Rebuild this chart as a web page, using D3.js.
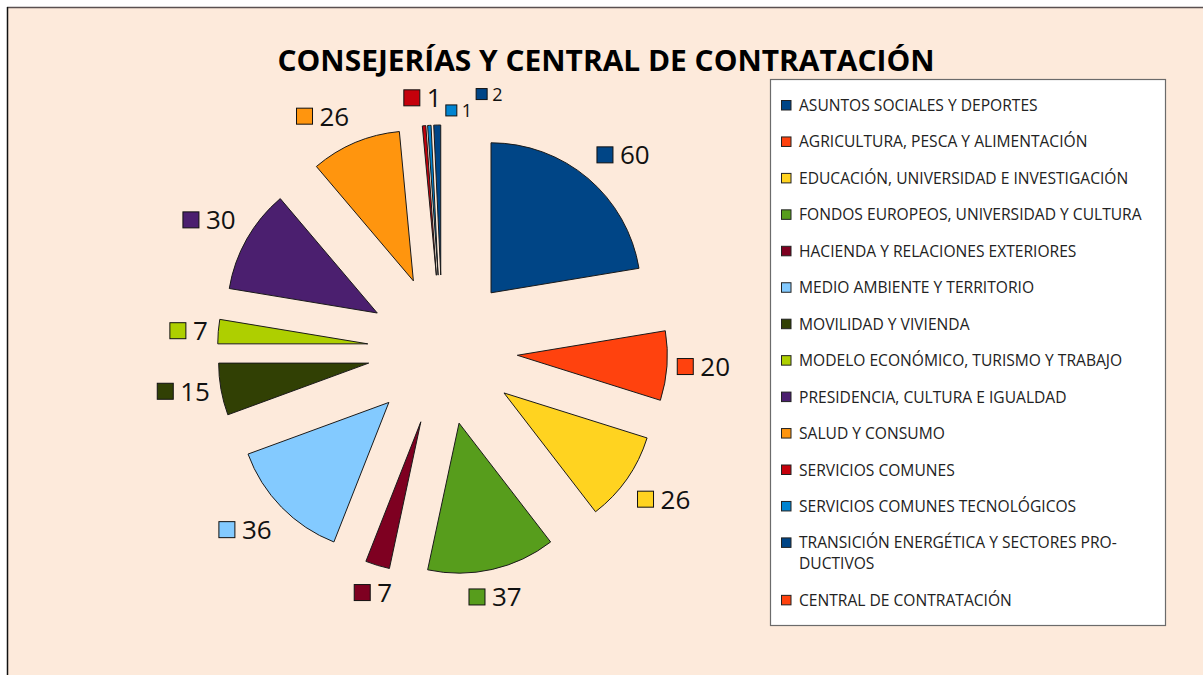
<!DOCTYPE html>
<html>
<head>
<meta charset="utf-8">
<script src="https://cdn.jsdelivr.net/npm/d3@7"></script>
<style>
  html, body { margin: 0; padding: 0; background: #ffffff; }
  svg { display: block; font-family: "Open Sans", "Noto Sans", sans-serif; }
</style>
</head>
<body>
<script>
/* Data */
var categories = [
  "ASUNTOS SOCIALES Y DEPORTES",
  "AGRICULTURA, PESCA Y ALIMENTACIÓN",
  "EDUCACIÓN, UNIVERSIDAD E INVESTIGACIÓN",
  "FONDOS EUROPEOS, UNIVERSIDAD Y CULTURA",
  "HACIENDA Y RELACIONES EXTERIORES",
  "MEDIO AMBIENTE Y TERRITORIO",
  "MOVILIDAD Y VIVIENDA",
  "MODELO ECONÓMICO, TURISMO Y TRABAJO",
  "PRESIDENCIA, CULTURA E IGUALDAD",
  "SALUD Y CONSUMO",
  "SERVICIOS COMUNES",
  "SERVICIOS COMUNES TECNOLÓGICOS",
  "TRANSICIÓN ENERGÉTICA Y SECTORES PRO\u00ADDUCTIVOS",
  "CENTRAL DE CONTRATACIÓN"
];
var values = [60, 20, 26, 37, 7, 36, 15, 7, 30, 26, 1, 1, 2, 0];
var colors = ["#004586", "#ff420e", "#ffd320", "#579d1c", "#7e0021", "#83caff", "#314004",
              "#aecf00", "#4b1f6f", "#ff950e", "#c5000b", "#0084d1", "#004586", "#ff420e"];
var title = "CONSEJERÍAS Y CENTRAL DE CONTRATACIÓN";

var W = 1203, H = 675;
var cx = 442.5, cy = 350, radius = 150, explode = 75;

var data = categories.map(function (c, i) { return { name: c, value: values[i], color: colors[i] }; });

var svg = d3.select("body").append("svg").attr("width", W).attr("height", H);

/* page background + frame */
svg.append("rect").attr("x", 7).attr("y", 7).attr("width", W).attr("height", H)
  .attr("fill", "#fdeadb");
svg.append("line").attr("x1", 7).attr("x2", W).attr("y1", 7.5).attr("y2", 7.5)
  .attr("stroke", "#5a5050").attr("stroke-width", 1.5);
svg.append("line").attr("x1", 7.5).attr("x2", 7.5).attr("y1", 7).attr("y2", H)
  .attr("stroke", "#111").attr("stroke-width", 1.5);

/* title */
svg.append("text")
  .attr("x", 606).attr("y", 71)
  .attr("text-anchor", "middle")
  .style("font-size", "29px").style("font-weight", "bold").style("fill", "#000")
  .attr("textLength", 657).attr("lengthAdjust", "spacingAndGlyphs")
  .text(title);

/* pie */
var pie = d3.pie().sort(null).value(function (d) { return d.value; });
var arc = d3.arc().innerRadius(0).outerRadius(radius);
var arcs = pie(data).filter(function (a) { return a.data.value > 0; });

function dirOf(a) {
  var m = (a.startAngle + a.endAngle) / 2;
  return [Math.sin(m), -Math.cos(m)];
}

svg.append("g").selectAll("path")
  .data(arcs)
  .enter().append("path")
    .attr("transform", function (a) {
      var d = dirOf(a);
      return "translate(" + (cx + d[0] * explode) + "," + (cy + d[1] * explode) + ")";
    })
    .attr("d", arc)
    .attr("fill", function (a) { return a.data.color; })
    .attr("stroke", "#1a1a1a").attr("stroke-width", 1);

/* value labels (key square + number), placed outside each slice */
var placed = [];
function hits(b) {
  return placed.filter(function (p) {
    return b.x0 < p.x1 && b.x1 > p.x0 && b.y0 < p.y1 && b.y1 > p.y0;
  });
}
// which side of the label box touches the anchor point: 8 sectors of 45 degrees
function sideOf(d) {
  var s22 = Math.sin(Math.PI / 8);
  return [Math.abs(d[0]) < s22 ? 0 : Math.sign(d[0]), Math.abs(d[1]) < s22 ? 0 : Math.sign(d[1])];
}
var stagger = 0;
var lg = svg.append("g");
arcs.forEach(function (a) {
  var d = dirOf(a), side = sideOf(d);
  var ax = cx + d[0] * explode, ay = cy + d[1] * explode;
  var g = 10 + 5 * Math.abs(d[1]);
  var px = ax + d[0] * (radius + g), py = ay + d[1] * (radius + g);
  var big = { fs: 26, sq: 16, gap: 7, dw: 15 };
  var small = { fs: 18, sq: 11, gap: 5, dw: 10.3 };
  function boxFor(s, x, y) {
    var w = s.sq + s.gap + s.dw * String(a.data.value).length, h = s.fs;
    var ccx = (x === undefined) ? px + side[0] * w / 2 : x;
    var ccy = (y === undefined) ? py + side[1] * h / 2 : y;
    return { s: s, w: w, h: h, cx: ccx, cy: ccy, x0: ccx - w / 2, x1: ccx + w / 2, y0: ccy - h / 2, y1: ccy + h / 2 };
  }
  var b = boxFor(big);
  if (hits(b).length) {
    b = boxFor(small);
    b = boxFor(small, b.cx, b.cy + (stagger++ % 2 === 0 ? 9 : -7));
    var guard = 0;
    while (hits(b).length && guard++ < 50) {
      var maxX = d3.max(hits(b), function (p) { return p.x1; });
      b = boxFor(small, maxX + 4 + b.w / 2, b.cy);
    }
  }
  placed.push(b);
  var s = b.s;
  lg.append("rect")
    .attr("x", b.x0).attr("y", b.cy - s.sq / 2)
    .attr("width", s.sq).attr("height", s.sq)
    .attr("fill", a.data.color).attr("stroke", "#111").attr("stroke-width", 1);
  lg.append("text")
    .attr("x", b.x0 + s.sq + s.gap).attr("y", b.cy + s.fs * 0.36)
    .style("font-size", s.fs + "px").style("fill", "#111")
    .text(a.data.value);
});

/* legend */
var legX = 770, legY = 79, legW = 395, legH = 546;
svg.append("rect").attr("x", legX + 0.5).attr("y", legY + 0.5)
  .attr("width", legW).attr("height", legH)
  .attr("fill", "#ffffff").attr("stroke", "#6b6b6b").attr("stroke-width", 1.2);

var leg = svg.append("g");
var rowY = 111, rowStep = 36.45, lineStep = 21, maxTextW = 1155 - 799;
data.forEach(function (d) {
  var parts = d.name.split("\u00AD");
  var t = leg.append("text").attr("x", 799).attr("y", rowY)
    .style("font-size", "15.6px").style("fill", "#222");
  t.text(parts.join(""));
  var lines = [parts.join("")];
  if (parts.length > 1 && t.node().getComputedTextLength() > maxTextW) {
    lines = [parts[0] + "-", parts.slice(1).join("")];
    t.text(null);
    lines.forEach(function (l, k) {
      t.append("tspan").attr("x", 799).attr("y", rowY + k * lineStep).text(l);
    });
  }
  leg.append("rect")
    .attr("x", 781.5).attr("y", rowY - 10.5)
    .attr("width", 9.5).attr("height", 9.5)
    .attr("fill", d.color).attr("stroke", "#222").attr("stroke-width", 1);
  rowY += (lines.length - 1) * lineStep + rowStep;
});
</script>
</body>
</html>
